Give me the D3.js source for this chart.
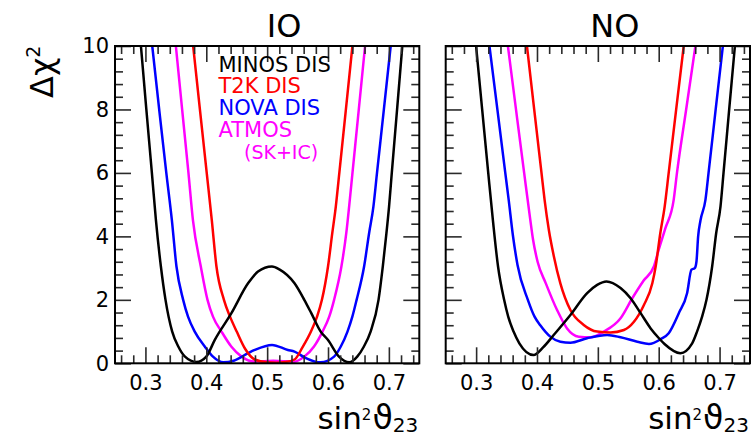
<!DOCTYPE html>
<html><head><meta charset="utf-8">
<script src="https://cdn.jsdelivr.net/npm/d3@7"></script>
<style>
html,body{margin:0;padding:0;background:#fff;}
svg{display:block;font-family:"DejaVu Sans",sans-serif;}
</style></head>
<body><svg id="c" width="756" height="438"></svg>
<script>
// ---- data ----
const xMajorTicks = [0.3, 0.4, 0.5, 0.6, 0.7];
const yMajorTicks = [0, 2, 4, 6, 8, 10];
const panelTitles = ["IO", "NO"];
const seriesNames = ["MINOS DIS", "T2K DIS", "NOVA DIS", "ATMOS"];
const seriesColors = ["#000000", "#ff0000", "#0000ff", "#ff00ff"];

// IO panel
const ioMinosX = [0.2926,0.3015,0.3106,0.3172,0.3254,0.333,0.344,0.354,0.365,0.384,0.400,0.414,0.4413,0.4686,0.485,0.5079,0.520,0.545,0.561,0.5725,0.588,0.5997,0.618,0.635,0.648,0.659,0.670,0.683,0.690,0.696,0.7003,0.7048,0.7135,0.7221];
const ioMinosY = [10,8,6,4.52,3.05,2.0,1.0,0.53,0.21,0.04,0.21,0.74,1.58,2.52,2.89,3.05,2.96,2.52,2.0,1.58,1.0,0.74,0.21,0.03,0.21,0.53,1.0,2.0,3.05,4.1,4.94,6,8,10];
const ioT2kX = [0.3784,0.3895,0.4007,0.409,0.4167,0.4290,0.4390,0.4500,0.4640,0.4795,0.500,0.515,0.530,0.545,0.558,0.572,0.582,0.590,0.600,0.607,0.6128,0.6186,0.6294,0.6401];
const ioT2kY = [10,8,6,4.52,3.05,2.0,1.47,1.0,0.45,0.12,0.03,0.02,0.04,0.12,0.5,1.0,1.47,2.0,3.05,4.1,4.94,6,8,10];
const ioNovaX = [0.3112,0.3226,0.3343,0.3434,0.351,0.362,0.370,0.381,0.3975,0.411,0.428,0.445,0.4686,0.4795,0.508,0.534,0.545,0.561,0.588,0.610,0.621,0.632,0.640,0.647,0.6593,0.6675,0.6746,0.6805,0.6918,0.7030];
const ioNovaY = [10,8,6,4.52,3.05,2.0,1.47,1.0,0.53,0.21,0.03,0.08,0.32,0.42,0.58,0.42,0.37,0.19,0.03,0.21,0.53,1.0,1.47,2.0,3.05,4.1,4.94,6,8,10];
const ioAtmosX = [0.350,0.3603,0.3707,0.378,0.391,0.402,0.411,0.425,0.441,0.458,0.480,0.510,0.5445,0.561,0.577,0.591,0.602,0.610,0.622,0.630,0.6347,0.6402,0.6506,0.6609];
const ioAtmosY = [10,8,6,4.52,3.05,2.0,1.47,1.0,0.53,0.21,0.05,0.08,0.05,0.21,0.53,1.0,1.47,2.0,3.05,4.1,4.94,6,8,10];

// NO panel
const noMinosX = [0.2999,0.3099,0.3199,0.3275,0.336,0.346,0.3527,0.3615,0.371,0.3944,0.410,0.4274,0.4549,0.4824,0.4989,0.5142,0.5373,0.5538,0.5703,0.5868,0.6004,0.610,0.6356,0.655,0.663,0.6713,0.6785,0.6878,0.6944,0.7015,0.7065,0.7158,0.7252];
const noMinosY = [10,8,6,4.52,3.05,2.0,1.47,1.0,0.63,0.26,0.50,0.89,1.52,2.21,2.47,2.58,2.37,2.05,1.58,1.10,0.79,0.60,0.32,0.63,1.0,1.47,2.0,3.05,4.1,4.94,6,8,10];
const noT2kX = [0.3835,0.3954,0.4074,0.4125,0.4195,0.4274,0.4384,0.4549,0.4768,0.4989,0.5208,0.5428,0.5593,0.5757,0.5895,0.595,0.6026,0.6098,0.6164,0.6287,0.6411];
const noT2kY = [10,8,6,5.15,4.2,3.4,2.52,1.68,1.21,1.0,0.97,1.05,1.31,1.84,2.52,3.05,4.1,4.94,6,8,10];
const noNovaX = [0.3219,0.3349,0.3479,0.3535,0.3605,0.368,0.385,0.396,0.4054,0.4219,0.4384,0.4549,0.4824,0.5153,0.5373,0.5648,0.584,0.6032,0.6164,0.633,0.6466,0.6538,0.6593,0.662,0.6648,0.6686,0.6768,0.6819,0.6936,0.7054];
const noNovaY = [10,8,6,5.15,4.02,3.1,2.0,1.47,1.2,0.84,0.68,0.65,0.79,0.89,0.82,0.68,0.61,0.76,0.95,1.58,2.21,2.95,3.0,3.2,4.0,4.5,5.15,6,8,10];
const noAtmosX = [0.3522,0.3655,0.3789,0.389,0.3935,0.401,0.4145,0.433,0.4494,0.4686,0.4878,0.5098,0.5373,0.5566,0.575,0.592,0.600,0.611,0.6246,0.630,0.6451,0.6603];
const noAtmosY = [10,8,6,4.52,3.9,3.2,2.52,1.68,1.10,0.84,0.82,1.0,1.42,2.05,2.6,3.05,3.58,4.26,5.15,6,8,10];

// ---- drawing ----
const svg = d3.select("#c");
const zip = (xs, ys) => xs.map((v, i) => [v, ys[i]]);
const panelSeries = [
  [zip(ioMinosX, ioMinosY), zip(ioT2kX, ioT2kY), zip(ioNovaX, ioNovaY), zip(ioAtmosX, ioAtmosY)],
  [zip(noMinosX, noMinosY), zip(noT2kX, noT2kY), zip(noNovaX, noNovaY), zip(noAtmosX, noAtmosY)]
];
const panelBox = [[115, 419.3], [445.7, 750]];
const yTop = 46, yBot = 363.3;
const y = d3.scaleLinear().domain([0, 10]).range([yBot, yTop]);
const xMinor = d3.range(0.26, 0.75, 0.02).map(v => +v.toFixed(2)).filter(v => Math.abs(v * 10 - Math.round(v * 10)) > 1e-6);
const yMinor = d3.range(0.4, 10, 0.4).map(v => +v.toFixed(1)).filter(v => Math.abs(v / 2 - Math.round(v / 2)) > 1e-6);
const tickColor = "#2a2a2a";

panelBox.forEach(([x0, x1], p) => {
  const x = d3.scaleLinear().domain([0.25, 0.75]).range([x0, x1]);
  const g = svg.append("g");
  const clipId = "clip" + p;
  svg.append("clipPath").attr("id", clipId).append("rect")
    .attr("x", x0).attr("y", yTop).attr("width", x1 - x0).attr("height", yBot - yTop);

  // curves
  const line = d3.line().x(d => x(d[0])).y(d => y(d[1])).curve(d3.curveMonotoneX);
  const cg = g.append("g").attr("clip-path", `url(#${clipId})`);
  [3, 2, 1, 0].forEach(i => {
    cg.append("path").attr("d", line(panelSeries[p][i]))
      .attr("fill", "none").attr("stroke", seriesColors[i]).attr("stroke-width", 2.5)
      .attr("stroke-linejoin", "round");
  });

  // axes with inward ticks on all four sides
  const styleAxis = sel => { sel.select(".domain").remove(); sel.selectAll(".tick line").attr("stroke", tickColor).attr("stroke-width", 1.6); };
  const bot = g.append("g").attr("transform", `translate(0,${yBot})`);
  bot.call(d3.axisBottom(x).tickValues(xMinor).tickSize(-8).tickFormat("")).call(styleAxis);
  const botMaj = g.append("g").attr("transform", `translate(0,${yBot})`);
  botMaj.call(d3.axisBottom(x).tickValues(xMajorTicks).tickSize(-16).tickPadding(12).tickFormat(d3.format(".1f"))).call(styleAxis);
  botMaj.selectAll("text").attr("font-size", 21).attr("font-family", "DejaVu Sans").attr("fill", "#000");

  const top = g.append("g").attr("transform", `translate(0,${yTop})`);
  top.call(d3.axisTop(x).tickValues(xMinor).tickSize(-8).tickFormat("")).call(styleAxis);
  const topMaj = g.append("g").attr("transform", `translate(0,${yTop})`);
  topMaj.call(d3.axisTop(x).tickValues(xMajorTicks).tickSize(-16).tickFormat("")).call(styleAxis);

  const left = g.append("g").attr("transform", `translate(${x0},0)`);
  left.call(d3.axisLeft(y).tickValues(yMinor).tickSize(-8).tickFormat("")).call(styleAxis);
  const leftMaj = g.append("g").attr("transform", `translate(${x0},0)`);
  leftMaj.call(d3.axisLeft(y).tickValues(yMajorTicks).tickSize(-16).tickPadding(6)
    .tickFormat(p === 0 ? d3.format("d") : () => "")).call(styleAxis);
  leftMaj.selectAll("text").attr("font-size", 21).attr("font-family", "DejaVu Sans").attr("fill", "#000");

  const right = g.append("g").attr("transform", `translate(${x1},0)`);
  right.call(d3.axisRight(y).tickValues(yMinor).tickSize(-8).tickFormat("")).call(styleAxis);
  const rightMaj = g.append("g").attr("transform", `translate(${x1},0)`);
  rightMaj.call(d3.axisRight(y).tickValues(yMajorTicks).tickSize(-16).tickFormat("")).call(styleAxis);

  // frame
  g.append("rect").attr("x", x0).attr("y", yTop).attr("width", x1 - x0).attr("height", yBot - yTop)
    .attr("fill", "none").attr("stroke", "#000").attr("stroke-width", 2);

  // panel title
  svg.append("text").attr("x", (x0 + x1) / 2 + 17).attr("y", 37).attr("text-anchor", "middle")
    .attr("font-size", 32).text(panelTitles[p]);

  // x-axis title sin^2 theta_23
  const xt = svg.append("text").attr("x", x1 - 1).attr("y", 429).attr("text-anchor", "end").attr("font-size", 31);
  xt.append("tspan").text("sin");
  xt.append("tspan").attr("font-size", 15).attr("dy", -9).text("2");
  xt.append("tspan").attr("dy", 9).attr("dx", 1).attr("font-size", 33).text("\u03D1");
  xt.append("tspan").attr("font-size", 20).attr("dy", 3).text("23");
});

// y-axis title
const yt = svg.append("text").attr("transform", "translate(53,98) rotate(-90)").attr("font-size", 32);
yt.append("tspan").text("\u0394\u03C7");
yt.append("tspan").attr("font-size", 19).attr("dy", -13).text("2");

// legend
const legendY = [71.7, 93.3, 115, 137.3];
seriesNames.forEach((s, i) => {
  svg.append("text").attr("x", 218.5).attr("y", legendY[i]).attr("font-size", 21)
    .attr("fill", seriesColors[i]).text(s);
});
svg.append("text").attr("x", 244).attr("y", 158.5).attr("font-size", 19)
  .attr("fill", seriesColors[3]).text("(SK+IC)");
</script>
</body></html>
